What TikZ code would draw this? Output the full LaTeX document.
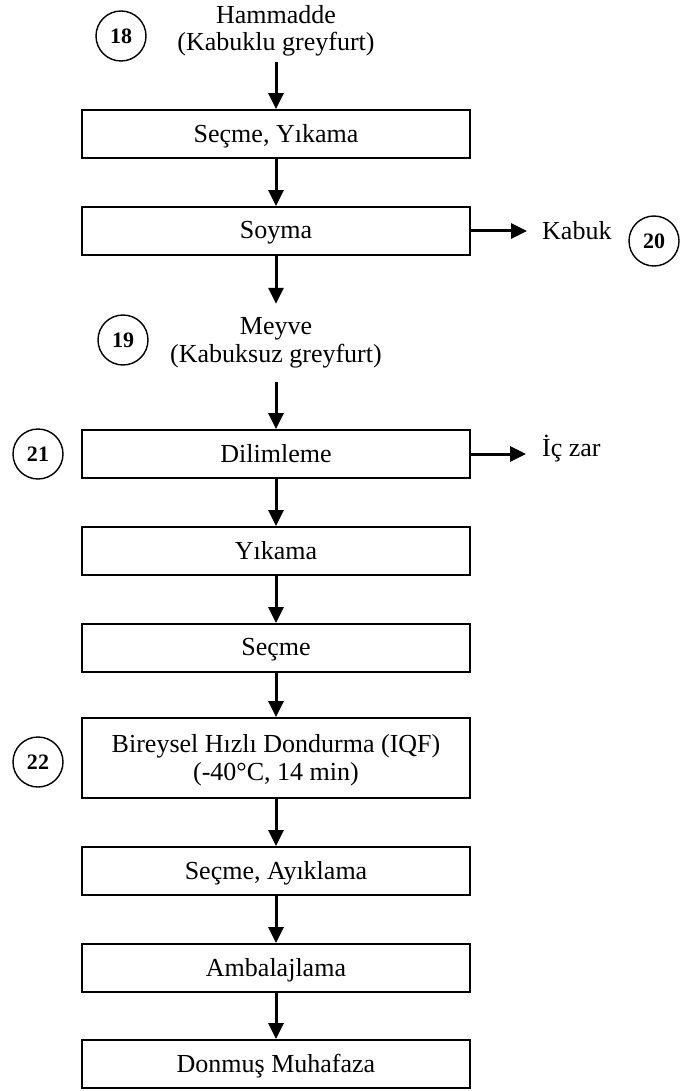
\documentclass[tikz,border=0pt]{standalone}
\usepackage{fontspec}
\setmainfont{Liberation Serif}
\usetikzlibrary{arrows.meta}
\begin{document}
\begin{tikzpicture}[x=1pt,y=-1pt,
  every node/.style={font=\fontsize{26}{27.5}\selectfont},
  stepbox/.style={draw, line width=1.8pt, rectangle, minimum width=388pt, minimum height=48pt, inner sep=0pt, align=center, text depth=1.5pt},
  txt/.style={inner sep=0pt, align=center},
  num/.style={draw, circle, line width=1.4pt, minimum size=50pt, inner sep=0pt, font=\fontsize{22}{22}\selectfont\bfseries},
  arr/.style={line width=3pt, -{Triangle[length=16pt,width=15pt]}}
]
\useasboundingbox (0,0) rectangle (680,1091);

% circled numbers
\node[num] (c18) at (121,36) {18};
\node[num] (c19) at (123,340) {19};
\node[num] (c20) at (654,241) {20};
\node[num] (c21) at (38,454) {21};
\node[num] (c22) at (38,762) {22};

% text nodes
\node[txt, minimum height=62pt] (ham) at (276,31) {Hammadde\\(Kabuklu greyfurt)};
\node[txt, minimum height=78pt] (meyve) at (276,343) {Meyve\\(Kabuksuz greyfurt)};

% process boxes
\node[stepbox] (b1) at (276,134) {Seçme, Yıkama};
\node[stepbox] (b2) at (276,231) {Soyma};
\node[stepbox] (b3) at (276,454) {Dilimleme};
\node[stepbox] (b4) at (276,551) {Yıkama};
\node[stepbox] (b5) at (276,648) {Seçme};
\node[stepbox, minimum height=80pt] (b6) at (276,758) {Bireysel Hızlı Dondurma (IQF)\\(-40°C, 14 min)};
\node[stepbox] (b7) at (276,871) {Seçme, Ayıklama};
\node[stepbox] (b8) at (276,968) {Ambalajlama};
\node[stepbox] (b9) at (276,1064) {Donmuş Muhafaza};

% side outputs
\node[txt, anchor=west] (kabuk) at (542,231) {Kabuk};
\node[txt, anchor=west] (iczar) at (542,449) {İç zar};

% connectors
\draw[arr] (ham.south) -- (b1.north);
\draw[arr] (b1.south) -- (b2.north);
\draw[arr] (b2.south) -- (meyve.north);
\draw[arr] (meyve.south) -- (b3.north);
\draw[arr] (b3.south) -- (b4.north);
\draw[arr] (b4.south) -- (b5.north);
\draw[arr] (b5.south) -- (b6.north);
\draw[arr] (b6.south) -- (b7.north);
\draw[arr] (b7.south) -- (b8.north);
\draw[arr] (b8.south) -- (b9.north);
\draw[arr, shorten >=15pt] (b2.east) -- (b2.east -| kabuk.west);
\draw[arr, shorten >=16pt] (b3.east) -- (b3.east -| iczar.west);
\end{tikzpicture}
\end{document}
